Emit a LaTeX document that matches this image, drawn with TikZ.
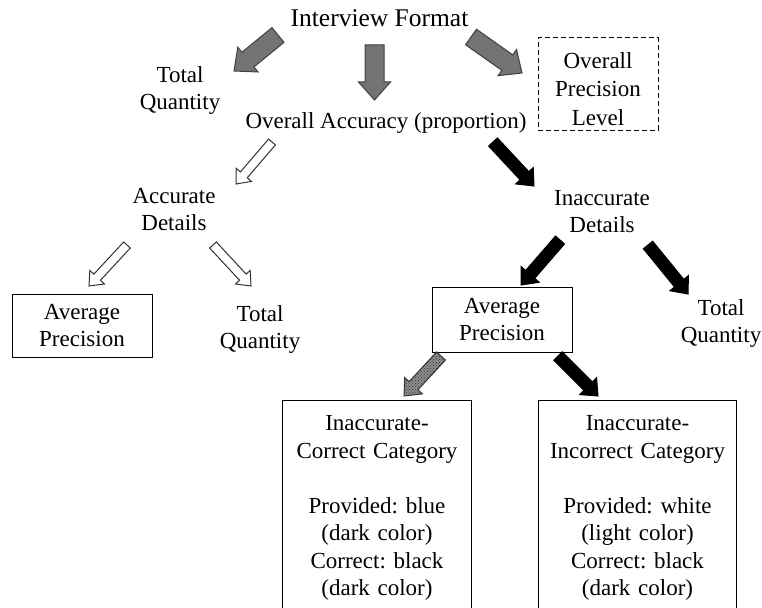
\documentclass[tikz,border=0pt]{standalone}
\usepackage{fontspec}
\setmainfont{Liberation Serif}
\frenchspacing
\usetikzlibrary{calc,patterns}
\tikzset{
	lbl/.style={align=center, inner sep=0pt, font=\fontsize{23}{27}\selectfont},
	box/.style={lbl, draw, line width=1pt},
	catbox/.style={box, anchor=north, inner ysep=15pt, font=\fontsize{23}{27.5}\selectfont},
	grayarr/.style={fill=black!55, draw=black!75, line width=1pt},
	whitearr/.style={fill=white, draw=black!80, line width=1pt},
	blackarr/.style={fill=black, draw=black, line width=1pt},
	hatcharr/.style={preaction={fill=black!45}, pattern=crosshatch dots, pattern color=black!80, draw=black!80, line width=1pt}
}
% block arrow: style, from, to, shaft half width, head half width, head length
\newcommand{\blockarr}[6]{%
	\coordinate (bh) at ($(#3)!#6!(#2)$);
	\path[#1] ($(#2)!#4!90:(#3)$) -- ($(bh)!#4!-90:(#2)$) -- ($(bh)!#5!-90:(#2)$) -- (#3)
		-- ($(bh)!#5!90:(#2)$) -- ($(bh)!#4!90:(#2)$) -- ($(#2)!#4!-90:(#3)$) -- cycle;}
\begin{document}
\begin{tikzpicture}[x=1pt, y=-1pt]
			\useasboundingbox (0,0) rectangle (762,607);
			\clip (0,0) rectangle (762,607);
			% top level
			\node[lbl, font=\fontsize{25.5}{28}\selectfont] (fmt) at (379.5,18) {Interview Format};
			\node[lbl] (totA) at (180,91) {Total\\Quantity};
			\node[lbl] (acc) at (386,123) {Overall Accuracy (proportion)};
			\node[box, dash pattern=on 5pt off 3pt, minimum width=120pt, minimum height=92pt, font=\fontsize{23}{28.5}\selectfont] (prec) at (598,84)
				{\rule{0pt}{26pt}Overall\\Precision\\Level};
			% second level
			\node[lbl] (accd) at (174,210) {Accurate\\Details};
			\node[lbl] (inacd) at (602,212) {Inaccurate\\Details};
			\node[box, minimum width=140pt, minimum height=63pt] (avgL) at (82,326) {Average\\Precision};
			\node[lbl] (totL) at (260,329) {Total\\Quantity};
			\node[box, minimum width=140pt, minimum height=65pt] (avgR) at (502,320) {Average\\Precision};
			\node[lbl] (totR) at (721,323) {Total\\Quantity};
			% categories
			\node[catbox, text width=189pt] (cat1) at (377,400)
				{Inaccurate-\\Correct Category\\[27.5pt]Provided: blue\\(dark color)\\Correct: black\\(dark color)\\ \mbox{}};
			\node[catbox, text width=198pt] (cat2) at (637.5,400)
				{Inaccurate-\\Incorrect Category\\[27.5pt]Provided: white\\(light color)\\Correct: black\\(dark color)\\ \mbox{}};
			% arrow ends
			\coordinate (fmt-l) at (278,35);   \coordinate (totA-t) at (234,71);
			\coordinate (fmt-m) at (374.5,45); \coordinate (acc-t) at (374.5,100);
			\coordinate (fmt-r) at (471,37);   \coordinate (prec-t) at (522,73);
			\coordinate (acc-l) at (272,142);  \coordinate (accd-t) at (236,184);
			\coordinate (acc-r) at (493,142);  \coordinate (inacd-t) at (534,186);
			\coordinate (accd-l) at (127,245); \coordinate (avgL-t) at (89,286);
			\coordinate (accd-r) at (213,245); \coordinate (totL-t) at (251,286);
			\coordinate (inacd-l) at (560,240); \coordinate (avgR-t) at (521,285);
			\coordinate (inacd-r) at (648,245); \coordinate (totR-t) at (688,294);
			\coordinate (avgR-l) at (441,356); \coordinate (cat1-t) at (404,396);
			\coordinate (avgR-r) at (558,356); \coordinate (cat2-t) at (598,396);
			\blockarr{grayarr}{fmt-l}{totA-t}{9.5pt}{16pt}{18pt}
			\blockarr{grayarr}{fmt-m}{acc-t}{9.5pt}{16pt}{18pt}
			\blockarr{grayarr}{fmt-r}{prec-t}{9.5pt}{16pt}{18pt}
			\blockarr{whitearr}{acc-l}{accd-t}{4.5pt}{10pt}{12pt}
			\blockarr{whitearr}{accd-l}{avgL-t}{4.5pt}{10pt}{12pt}
			\blockarr{whitearr}{accd-r}{totL-t}{4.5pt}{10pt}{12pt}
			\blockarr{blackarr}{acc-r}{inacd-t}{6pt}{12pt}{14pt}
			\blockarr{blackarr}{inacd-l}{avgR-t}{6pt}{12pt}{14pt}
			\blockarr{blackarr}{inacd-r}{totR-t}{6pt}{12pt}{14pt}
			\blockarr{hatcharr}{avgR-l}{cat1-t}{6pt}{12pt}{14pt}
			\blockarr{blackarr}{avgR-r}{cat2-t}{6pt}{12pt}{14pt}
		\end{tikzpicture}
\end{document}
